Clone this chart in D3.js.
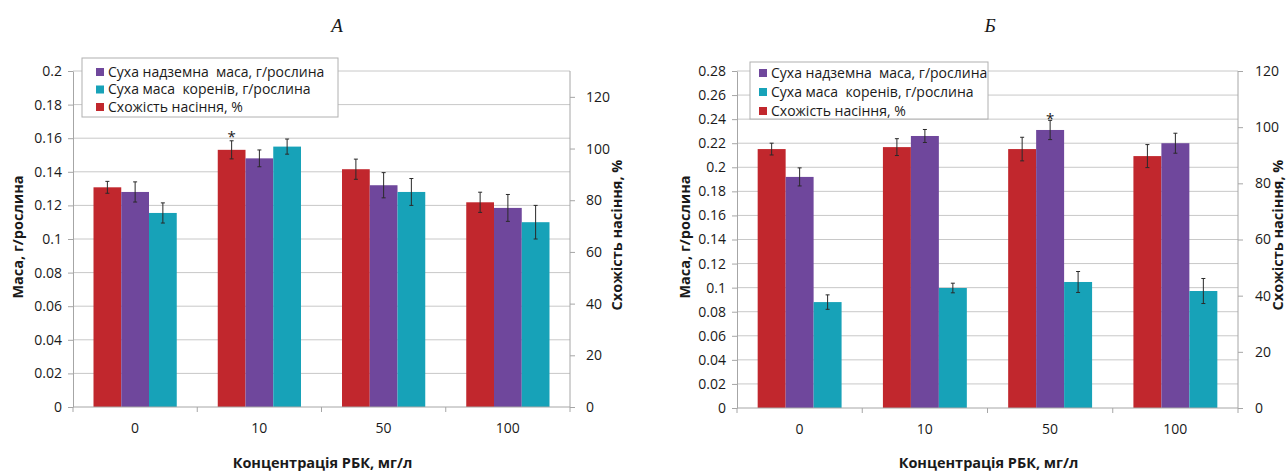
<!DOCTYPE html>
<html>
<head>
<meta charset="utf-8">
<script src="https://cdn.jsdelivr.net/npm/d3@7"></script>
<style>
body { margin: 0; background: #fff; }
text { font-family: "Open Sans", sans-serif; fill: #1a1a1a; }
.pre { white-space: pre; }
</style>
</head>
<body>
<svg id="chart" width="1288" height="472"></svg>
<script>
// categories and series
const categories = ["0", "10", "50", "100"];
const legendNames = ["Суха надземна  маса, г/рослина", "Суха маса  коренів, г/рослина", "Схожість насіння, %"];
const colors = {germ: "#c1272d", shoot: "#6f479c", root: "#17a2b8"};

// panel A values
const germA = [85, 99.5, 92, 79.2];
const germAErr = [2.3, 3.5, 3.9, 3.9];
const shootA = [0.128, 0.148, 0.132, 0.1185];
const shootAErr = [0.006, 0.005, 0.0075, 0.008];
const rootA = [0.1155, 0.155, 0.128, 0.110];
const rootAErr = [0.006, 0.0045, 0.008, 0.010];

// panel B values
const germB = [92.2, 92.9, 92.2, 89.7];
const germBErr = [2.1, 3.0, 4.2, 4.1];
const shootB = [0.192, 0.226, 0.231, 0.220];
const shootBErr = [0.0075, 0.0054, 0.008, 0.0083];
const rootB = [0.088, 0.0997, 0.1047, 0.0972];
const rootBErr = [0.006, 0.004, 0.0087, 0.0104];

const svg = d3.select("#chart");

function drawPanel(p) {
    let g = svg.append("g");

    let x0 = d3.scaleBand().domain(categories).range([p.left, p.right]);
    let bw = x0.bandwidth();
    let x1 = d3.scaleBand().domain(["germ", "shoot", "root"]).range([bw * 0.165, bw * 0.835]);
    let yL = d3.scaleLinear().domain([0, p.leftMax]).range([p.bottom, p.top]);
    let yR = d3.scaleLinear().domain([0, p.rightMax]).range([p.bottom, p.top]);

    let leftTicks = d3.range(0, Math.round(p.leftMax / 0.02) + 1).map(i => +(i * 0.02).toFixed(2));
    let rightTicks = d3.range(0, 121, 20);

    // gridlines
    g.selectAll(".grid")
        .data(leftTicks.slice(1))
        .enter()
        .append("line")
        .attr("x1", p.left).attr("x2", p.right)
        .attr("y1", d => yL(d)).attr("y2", d => yL(d))
        .attr("stroke", "#c8c8c8");

    // bars
    let rows = categories.map((c, i) => [
        {cat: c, key: "germ", v: p.germ[i], e: p.germErr[i], y: yR},
        {cat: c, key: "shoot", v: p.shoot[i], e: p.shootErr[i], y: yL},
        {cat: c, key: "root", v: p.root[i], e: p.rootErr[i], y: yL}
    ]).flat();

    g.selectAll(".bar")
        .data(rows)
        .enter()
        .append("rect")
        .attr("x", d => x0(d.cat) + x1(d.key))
        .attr("width", x1.bandwidth())
        .attr("y", d => d.y(d.v))
        .attr("height", d => p.bottom - d.y(d.v))
        .attr("fill", d => colors[d.key]);

    // error bars
    let eb = g.selectAll(".err")
        .data(rows)
        .enter()
        .append("g")
        .attr("transform", d => `translate(${x0(d.cat) + x1(d.key) + x1.bandwidth() / 2},0)`)
        .attr("stroke", "#2a2a2a")
        .attr("stroke-width", 1);
    eb.append("line")
        .attr("y1", d => d.y(d.v + d.e)).attr("y2", d => d.y(d.v - d.e));
    eb.append("line")
        .attr("x1", -2).attr("x2", 2)
        .attr("y1", d => d.y(d.v + d.e)).attr("y2", d => d.y(d.v + d.e));
    eb.append("line")
        .attr("x1", -2).attr("x2", 2)
        .attr("y1", d => d.y(d.v - d.e)).attr("y2", d => d.y(d.v - d.e));

    // significance star
    let s = rows.find(d => d.cat == p.star.cat && d.key == p.star.key);
    g.append("text")
        .attr("x", x0(s.cat) + x1(s.key) + x1.bandwidth() / 2)
        .attr("y", s.y(s.v + s.e) + p.star.dy)
        .attr("text-anchor", "middle")
        .style("font-size", "15px")
        .text("*");

    // axes
    let axL = g.append("g")
        .attr("transform", `translate(${p.left},0)`)
        .call(d3.axisLeft(yL).tickValues(leftTicks).tickSize(5).tickSizeOuter(0).tickPadding(6)
            .tickFormat(d => String(d)));
    let axR = g.append("g")
        .attr("transform", `translate(${p.right},0)`)
        .call(d3.axisRight(yR).tickValues(rightTicks).tickSize(5).tickSizeOuter(0).tickPadding(p.rPad));
    [axL, axR].forEach(a => {
        a.select(".domain").attr("stroke", "#a6a6a6");
        a.selectAll(".tick line").attr("stroke", "#a6a6a6");
        a.selectAll(".tick text").style("font-size", "14px").style("font-family", "Open Sans, sans-serif").attr("fill", "#1a1a1a");
    });
    axR.select(".domain").attr("d", `M0,${p.bottom}V${yR(p.rightMax)}`);

    // x axis
    g.append("line")
        .attr("x1", p.left).attr("x2", p.right)
        .attr("y1", p.bottom).attr("y2", p.bottom)
        .attr("stroke", "#a6a6a6");
    g.selectAll(".xtick")
        .data(categories.concat(["end"]))
        .enter()
        .append("line")
        .attr("x1", (d, i) => p.left + i * bw).attr("x2", (d, i) => p.left + i * bw)
        .attr("y1", p.bottom).attr("y2", p.bottom + 5)
        .attr("stroke", "#a6a6a6");
    g.selectAll(".xlabel")
        .data(categories)
        .enter()
        .append("text")
        .attr("x", d => x0(d) + bw / 2)
        .attr("y", p.bottom + 26)
        .attr("text-anchor", "middle")
        .style("font-size", "14px")
        .text(d => d);

    // axis titles
    g.append("text")
        .attr("x", (p.left + p.right) / 2 + 1)
        .attr("y", 468)
        .attr("text-anchor", "middle")
        .style("font-size", "14.5px").style("font-weight", "bold")
        .text("Концентрація РБК, мг/л");
    g.append("text")
        .attr("transform", `translate(${p.ltX},237) rotate(-90)`)
        .attr("text-anchor", "middle")
        .attr("dy", "0.35em")
        .style("font-size", "14.5px").style("font-weight", "bold")
        .text("Маса, г/рослина");
    g.append("text")
        .attr("transform", `translate(${p.rtX},235) rotate(-90)`)
        .attr("text-anchor", "middle")
        .attr("dy", "0.35em")
        .style("font-size", "14.5px").style("font-weight", "bold")
        .text("Схожість насіння, %");

    // panel title
    g.append("text")
        .attr("x", p.titleX).attr("y", 32)
        .attr("text-anchor", "middle")
        .style("font-family", "Liberation Serif, DejaVu Serif, serif")
        .style("font-style", "italic")
        .style("font-size", "19px")
        .text(p.title);

    // legend
    let L = p.legend;
    g.append("rect")
        .attr("x", L.x).attr("y", L.y).attr("width", L.w).attr("height", L.h)
        .attr("fill", "#fff").attr("stroke", "#b0b0b0");
    let li = g.selectAll(".leg")
        .data(["shoot", "root", "germ"])
        .enter()
        .append("g")
        .attr("transform", (d, i) => `translate(${L.x + L.sq},${L.y + L.row0 + i * L.step})`);
    li.append("rect")
        .attr("x", 0).attr("y", -4).attr("width", 8).attr("height", 8)
        .attr("fill", d => colors[d]);
    li.append("text")
        .attr("class", "pre")
        .attr("x", 12).attr("dy", "0.35em")
        .style("font-size", "14px")
        .text((d, i) => legendNames[i]);
}

drawPanel({
    title: "A", titleX: 337,
    left: 73, right: 570, top: 71, bottom: 407,
    leftMax: 0.2, rightMax: 130, rPad: 11,
    germ: germA, germErr: germAErr, shoot: shootA, shootErr: shootAErr, root: rootA, rootErr: rootAErr,
    star: {cat: "10", key: "germ", dy: 1},
    legend: {x: 82, y: 58, w: 256, h: 59, sq: 14, row0: 14, step: 17.5},
    ltX: 18, rtX: 617
});

drawPanel({
    title: "Б", titleX: 990,
    left: 737, right: 1238, top: 71, bottom: 408,
    leftMax: 0.28, rightMax: 120, rPad: 12,
    germ: germB, germErr: germBErr, shoot: shootB, shootErr: shootBErr, root: rootB, rootErr: rootBErr,
    star: {cat: "50", key: "shoot", dy: 4},
    legend: {x: 750, y: 62, w: 238, h: 57, sq: 9, row0: 11, step: 19},
    ltX: 685, rtX: 1278
});
</script>
</body>
</html>
